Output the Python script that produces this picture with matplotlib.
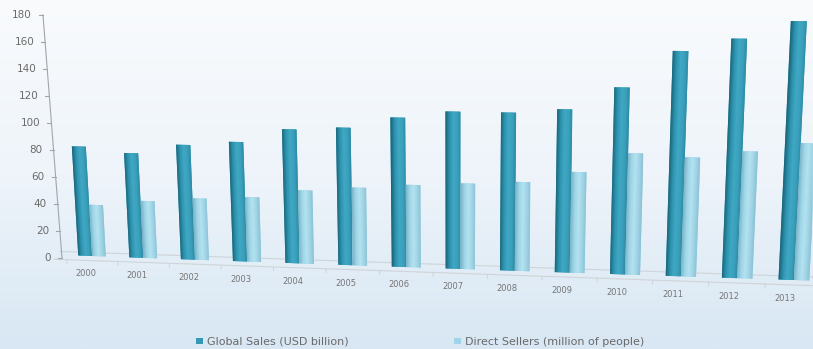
import numpy as np
import matplotlib
matplotlib.use("Agg")
import matplotlib.pyplot as plt
import matplotlib.transforms as mtransforms
from matplotlib.colors import LinearSegmentedColormap

# data
years = [2000, 2001, 2002, 2003, 2004, 2005, 2006, 2007, 2008, 2009, 2010, 2011, 2012, 2013]
global_sales = [81, 77, 84, 87, 97, 99, 107, 112, 112, 115, 131, 157, 166, 178.5]
direct_sellers = [38, 42, 45, 47, 53, 56, 59, 61, 63, 71, 85, 83, 88, 94.5]
y_ticks = [0, 20, 40, 60, 80, 100, 120, 140, 160, 180]
series_labels = ["Global Sales (USD billion)", "Direct Sellers (million of people)"]

# projection constants (pixels) for the fake 3D floor
X0, DX, DDX = 92, 51, 0.23      # group spacing, widening to the right
Y0, DY = 256, 24 / 13           # floor line sinks to the right
S0, DS = 1.35, 0.0077           # px per unit, grows to the right
LEAN, LEAN_C = 0.0082, 6.9      # columns lean away from the middle


class FloorPerspective(mtransforms.Transform):
    """(group index, value) -> pixel position"""
    input_dims = 2
    output_dims = 2
    is_separable = False
    has_inverse = True

    def transform_non_affine(self, values):
        values = np.asarray(values, dtype=float)
        i, v = values[:, 0], values[:, 1]
        h = (S0 + DS * i) * v
        px = X0 + DX * i + DDX * i ** 2 + LEAN * (i - LEAN_C) * h
        py = Y0 + DY * i - h
        return np.column_stack([px, py])

    def inverted(self):
        return FloorPerspectiveInverse()


class FloorPerspectiveInverse(mtransforms.Transform):
    input_dims = 2
    output_dims = 2
    is_separable = False
    has_inverse = True

    def transform_non_affine(self, values):
        values = np.asarray(values, dtype=float)
        px, py = values[:, 0], values[:, 1]
        # h = Y0 + DY*i - py, substitute into px -> quadratic in i
        a = DDX + LEAN * DY
        b = DX + LEAN * (Y0 - py) - LEAN * LEAN_C * DY
        c = X0 - px - LEAN * LEAN_C * (Y0 - py)
        disc = np.maximum(b * b - 4 * a * c, 0)
        i = (-b + np.sqrt(disc)) / (2 * a)
        h = Y0 + DY * i - py
        v = h / (S0 + DS * i)
        return np.column_stack([i, v])

    def inverted(self):
        return FloorPerspective()


W, H = 813, 349
fig = plt.figure(figsize=(W / 100, H / 100), dpi=100)
ax = fig.add_axes([0, 0, 1, 1])
ax.set_xlim(0, W)
ax.set_ylim(H, 0)
ax.axis("off")

# background: white fading to pale blue
bg = LinearSegmentedColormap.from_list("bg", ["#f9fbfd", "#eef4fa", "#d8e7f3"])
ax.imshow(np.linspace(0, 1, 200).reshape(-1, 1), cmap=bg, extent=(0, W, H, 0),
          aspect="auto", zorder=0)
ax.set_xlim(0, W)
ax.set_ylim(H, 0)

persp = FloorPerspective() + ax.transData
wall = mtransforms.Affine2D.from_values(1, 0, -19 / 180, -1.35, 62, 258) + ax.transData

# floor
ax.plot([-0.62, 13.9], [2.5, 2.5], transform=persp, color="#cfd4d8", lw=0.8, zorder=1)
ax.plot([-0.75, 13.9], [-3.5, -3.5], transform=persp, color="#cfd4d8", lw=0.8, zorder=1)
for k in range(-1, 14):
    ax.plot([k + 0.5, k + 0.5], [-3.5, -6], transform=persp, color="#cfd4d8", lw=0.7, zorder=1)

# vertical axis on the back wall
ax.plot([0, 0], [0, 180], transform=wall, color="#a0a6ab", lw=0.8, zorder=1)
for v in y_ticks:
    ax.plot([-4, 0], [v, v], transform=wall, color="#a0a6ab", lw=0.8, zorder=1)
    ax.text(-11, v, str(v), transform=wall, ha="right", va="center",
            fontsize=7.5, color="#6a6a6a")

x = np.arange(len(years))
bw = 0.27
sales_cmap = LinearSegmentedColormap.from_list(
    "sales", ["#1a6479", "#2d93ae", "#40a8c4", "#3aa0bc", "#2b86a0"])
sellers_cmap = LinearSegmentedColormap.from_list(
    "sellers", ["#7bb3c6", "#9ed6e8", "#b3e2f0", "#9fd3e4", "#86bfd2"])

b1 = ax.bar(x - bw / 2, global_sales, bw, color="#3399b5", edgecolor="none",
            transform=persp, zorder=2, label=series_labels[0])
b2 = ax.bar(x + bw / 2, direct_sellers, bw, color="#9ed6e8", edgecolor="none",
            transform=persp, zorder=2, label=series_labels[1])

# cylinder-ish shading on every bar, clipped to the bar outline
grad = np.linspace(0, 1, 64).reshape(1, -1)
for bars, cm in [(b1, sales_cmap), (b2, sellers_cmap)]:
    for r in bars:
        x0, w, h = r.get_x(), r.get_width(), r.get_height()
        im = ax.imshow(grad, cmap=cm, extent=(x0 - 0.01, x0 + w + 0.01, -2, h + 2),
                       aspect="auto", transform=persp, interpolation="bilinear",
                       zorder=2.5)
        im.set_clip_path(mtransforms.TransformedPatchPath(r))

ax.set_xlim(0, W)
ax.set_ylim(H, 0)

# year labels under the sales bars
for i, yr in enumerate(years):
    ax.text(i - bw / 2, -13, str(yr), transform=persp, ha="center", va="center",
            fontsize=6, color="#777777")

fig.legend(handles=[b1, b2], labels=series_labels, loc="center",
           bbox_to_anchor=(420 / W, 1 - 342 / H), ncol=2, frameon=False,
           fontsize=8, labelcolor="#6a6a6a", handlelength=0.6, handleheight=0.5,
           handletextpad=0.35, columnspacing=9.5)

fig.savefig("out.png", dpi=100)
